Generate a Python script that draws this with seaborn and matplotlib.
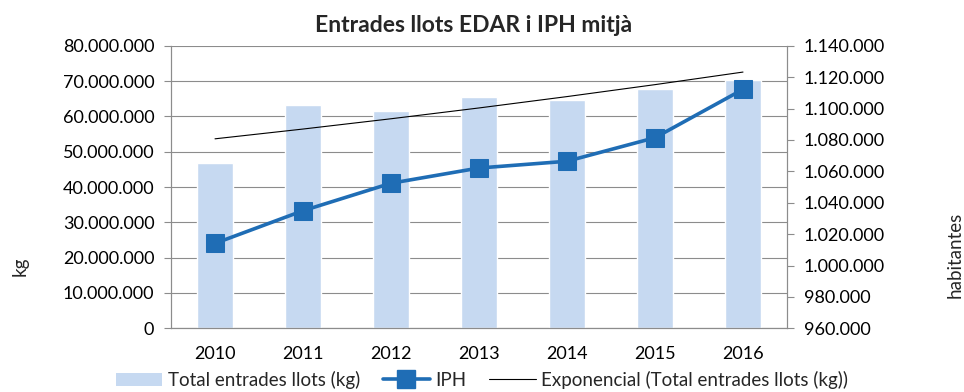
import numpy as np
import pandas as pd
import matplotlib
matplotlib.use("Agg")
import matplotlib.pyplot as plt
from matplotlib.ticker import FuncFormatter, FixedLocator
from matplotlib.lines import Line2D
from matplotlib.patches import Patch
import seaborn as sns

# Yearly data
years = ["2010", "2011", "2012", "2013", "2014", "2015", "2016"]
sludge_kg = [46_800_000, 63_300_000, 61_500_000, 65_500_000, 64_600_000, 67_700_000, 70_400_000]
iph = [1_014_100, 1_034_900, 1_052_400, 1_062_100, 1_066_400, 1_081_400, 1_112_200]

left_ticks = [0, 10_000_000, 20_000_000, 30_000_000, 40_000_000, 50_000_000, 60_000_000, 70_000_000, 80_000_000]
right_ticks = [960_000, 980_000, 1_000_000, 1_020_000, 1_040_000, 1_060_000, 1_080_000, 1_100_000, 1_120_000, 1_140_000]

sns.set_theme(style="white")
plt.rcParams["font.family"] = ["Lato", "DejaVu Sans"]

BAR = "#C6D9F1"
LINE = "#1F6DB5"
GRID = "#8C8C8C"

df = pd.DataFrame({"year": years, "kg": sludge_kg, "iph": iph, "pos": np.arange(len(years))})

# Exponential trend fitted to the sludge series (least squares on log values)
b, a = np.polyfit(df["pos"] + 1, np.log(df["kg"]), 1)
df["trend"] = np.exp(a + b * (df["pos"] + 1))

fmt = FuncFormatter(lambda v, p: f"{int(v):,}".replace(",", "."))

fig = plt.figure(figsize=(9.64, 3.92), dpi=100)
ax = fig.add_axes([171 / 964, 1 - 328.3 / 392, (787 - 171) / 964, (328.3 - 45.7) / 392])

sns.barplot(data=df, x="year", y="kg", color=BAR, width=0.41, saturation=1, ax=ax, zorder=2)
sns.lineplot(x=df["pos"], y=df["trend"], color="black", linewidth=0.8, ax=ax, zorder=3)

ax.set_xlim(-0.5, len(years) - 0.5)
ax.set_ylim(0, 80_000_000)
ax.yaxis.set_major_locator(FixedLocator(left_ticks))
ax.yaxis.set_major_formatter(fmt)
ax.grid(axis="y", color=GRID, linewidth=0.8, zorder=0)
ax.set_axisbelow(True)
ax.set_xlabel("")
ax.set_ylabel("")

ax.set_xticks(df["pos"])
ax.set_xticklabels(years)
ax.set_xticks(np.arange(-0.5, len(years), 1.0), minor=True)
ax.tick_params(axis="x", which="major", length=0, pad=13, labelsize=13, colors="black")
ax.tick_params(axis="x", which="minor", length=6, width=0.8, color=GRID, direction="out")
ax.tick_params(axis="y", which="major", left=True, length=5, width=0.8, color=GRID,
               direction="out", pad=7, labelsize=13, labelcolor="black")

for side in ["left", "bottom", "right"]:
    ax.spines[side].set_visible(True)
    ax.spines[side].set_color(GRID)
    ax.spines[side].set_linewidth(0.8)
ax.spines["top"].set_visible(False)

ax2 = ax.twinx()
sns.lineplot(x=df["pos"], y=df["iph"], color=LINE, linewidth=2.6, marker="s",
             markersize=12.5, markeredgecolor=LINE, markerfacecolor=LINE, ax=ax2, zorder=4)
ax2.set_ylim(960_000, 1_140_000)
ax2.yaxis.set_major_locator(FixedLocator(right_ticks))
ax2.yaxis.set_major_formatter(fmt)
ax2.tick_params(axis="y", right=True, length=5, width=0.8, color=GRID, direction="out",
                pad=7, labelsize=13, labelcolor="black")
ax2.set_ylabel("")
ax2.set_xlabel("")
ax2.grid(False)
for side in ["left", "bottom", "right"]:
    ax2.spines[side].set_color(GRID)
    ax2.spines[side].set_linewidth(0.8)
ax2.spines["top"].set_visible(False)
ax2.set_xlim(-0.5, len(years) - 0.5)

fig.text(474 / 964, 1 - 25 / 392, "Entrades llots EDAR i IPH mitjà", ha="center", va="center",
         fontsize=16.5, fontweight="bold")
fig.text(20 / 964, 1 - 266 / 392, "kg", rotation=90, ha="center", va="center", fontsize=13.5)
fig.text(955 / 964, 1 - 255 / 392, "habitantes", rotation=90, ha="center", va="center", fontsize=13.5)

handles = [
    Patch(facecolor=BAR, edgecolor="none"),
    Line2D([], [], color=LINE, linewidth=2.6, marker="s", markersize=12.5),
    Line2D([], [], color="black", linewidth=0.8),
]
labels = ["Total entrades llots (kg)", "IPH", "Exponencial (Total entrades llots (kg))"]
fig.legend(handles, labels, loc="center", bbox_to_anchor=(482 / 964, 1 - 380 / 392), ncol=3,
           frameon=False, fontsize=13.5, handlelength=2.5, handletextpad=0.3, columnspacing=1.2,
           borderaxespad=0)

fig.savefig("out.png", dpi=100)
